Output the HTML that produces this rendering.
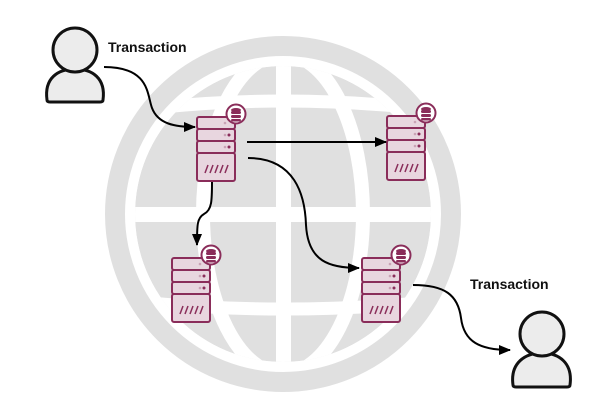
<!DOCTYPE html>
<html><head><meta charset="utf-8"><style>
html,body{margin:0;padding:0;background:#fff;width:600px;height:407px;overflow:hidden}
svg{display:block}
text{font-family:"Liberation Sans",sans-serif;font-weight:bold;font-size:14px;fill:#111}
</style></head><body>
<svg width="600" height="407" viewBox="0 0 600 407" xmlns="http://www.w3.org/2000/svg">
<defs>
<clipPath id="disc"><circle cx="283" cy="214" r="148"/></clipPath>
<marker id="ah" markerWidth="12" markerHeight="10" refX="11" refY="5" orient="auto" markerUnits="userSpaceOnUse">
<path d="M0,0 L12,5 L0,10 Z" fill="#000"/></marker>
<g id="srv">
<rect x="0" y="0" width="38" height="12" rx="2" fill="#e8d6df" stroke="#8a2d5a" stroke-width="2"/>
<rect x="0" y="12" width="38" height="12" rx="2" fill="#e8d6df" stroke="#8a2d5a" stroke-width="2"/>
<rect x="0" y="24" width="38" height="12" rx="2" fill="#e8d6df" stroke="#8a2d5a" stroke-width="2"/>
<rect x="0" y="36" width="38" height="28" rx="2" fill="#e8d6df" stroke="#8a2d5a" stroke-width="2"/>
<circle cx="28" cy="18" r="1.3" fill="#c9a3b6"/><circle cx="32" cy="18" r="1.5" fill="#8a2d5a"/>
<circle cx="28" cy="30" r="1.3" fill="#c9a3b6"/><circle cx="32" cy="30" r="1.5" fill="#8a2d5a"/>
<circle cx="28" cy="6" r="1.3" fill="#c9a3b6"/>
<path d="M8,56 l3,-8 M13,56 l3,-8 M18,56 l3,-8 M23,56 l3,-8 M28,56 l3,-8" stroke="#8a2d5a" stroke-width="1.5"/>
<circle cx="39" cy="-3" r="9.5" fill="#fff" stroke="#8a2d5a" stroke-width="2"/>
<ellipse cx="39" cy="-7" rx="5" ry="2" fill="#8a2d5a"/>
<rect x="34" y="-6" width="10" height="3" rx="1.5" fill="#8a2d5a"/>
<rect x="34" y="-2" width="10" height="3" rx="1.5" fill="#8a2d5a"/>
<rect x="34" y="2" width="10" height="2.5" rx="1.2" fill="#8a2d5a"/>
</g>
</defs>
<!-- globe -->
<circle cx="283" cy="214" r="168" fill="none" stroke="#e0e0e0" stroke-width="20"/>
<g clip-path="url(#disc)">
<circle cx="283" cy="214" r="148" fill="#e0e0e0"/>
<ellipse cx="283" cy="214" rx="80" ry="160" fill="none" stroke="#fff" stroke-width="14"/>
<rect x="276" y="50" width="15" height="330" fill="#fff"/>
<rect x="120" y="207" width="330" height="15" fill="#fff"/>
<path d="M120,112 Q283,90 450,112" fill="none" stroke="#fff" stroke-width="13"/>
<path d="M120,300 Q283,318 450,300" fill="none" stroke="#fff" stroke-width="13"/>
</g>
<!-- servers -->
<use href="#srv" x="197" y="117"/>
<use href="#srv" x="387" y="116"/>
<use href="#srv" x="172" y="258"/>
<use href="#srv" x="362" y="258"/>
<!-- connectors -->
<g fill="none" stroke="#000" stroke-width="2">
<path d="M104,67 C150,67 147,95 152,108 C158,124 175,127 195,127" marker-end="url(#ah)"/>
<path d="M247,142 L386,142" marker-end="url(#ah)"/>
<path d="M248,158 C295,158 305,195 306,225 C308,262 330,268 359,268" marker-end="url(#ah)"/>
<path d="M212,182 C212,200 212,210 204,214 C197,218 197,225 197,245" marker-end="url(#ah)"/>
<path d="M413,285 C445,285 458,295 461,318 C464,342 480,350 510,350" marker-end="url(#ah)"/>
</g>
<!-- people -->
<g fill="#ececec" stroke="#111" stroke-width="3">
<path d="M47,100 C44,78 58,69 75,69 C92,69 106,78 103,100 Q103,102 100,102 L50,102 Q47,102 47,100 Z"/>
<circle cx="75" cy="50" r="22"/>
<path d="M513,385 C510,363 525,353 542,353 C559,353 573,363 570,385 Q570,387 567,387 L516,387 Q513,387 513,385 Z"/>
<circle cx="542" cy="334" r="22"/>
</g>
<text x="108" y="52">Transaction</text>
<text x="470" y="289">Transaction</text>
</svg>
</body></html>
